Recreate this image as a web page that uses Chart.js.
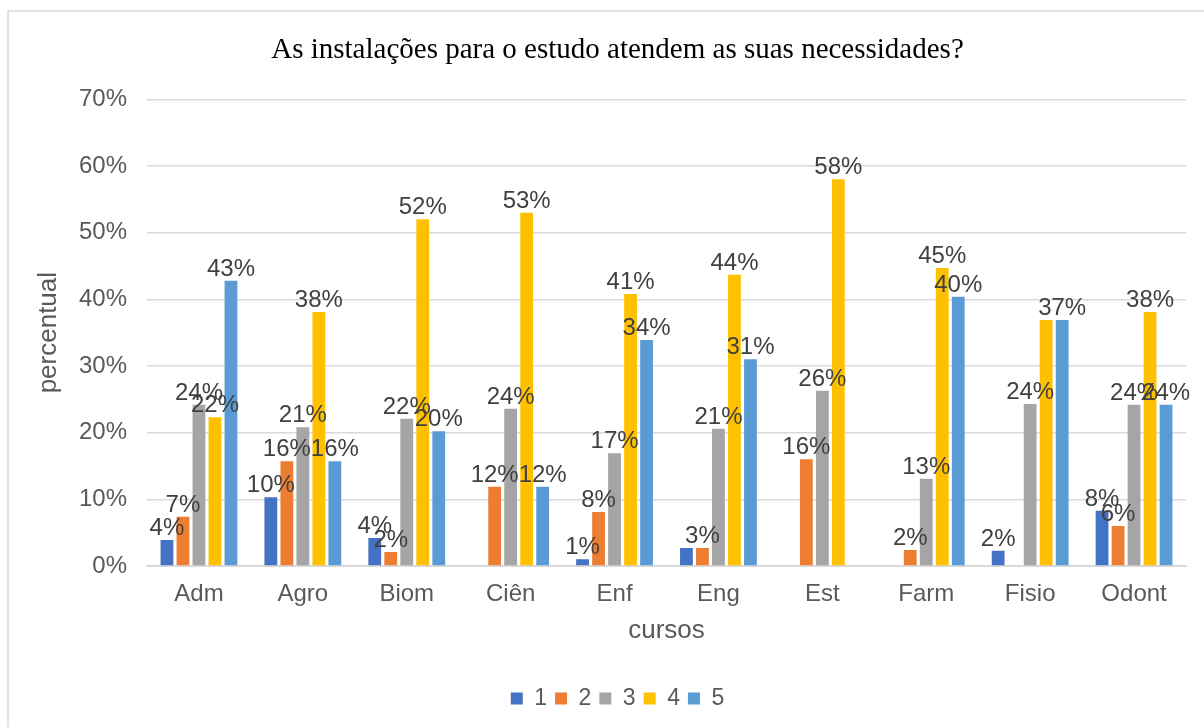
<!DOCTYPE html>
<html>
<head>
<meta charset="utf-8">
<script src="https://cdn.jsdelivr.net/npm/chart.js@4"></script>
<style>
  html, body { margin: 0; padding: 0; background: #fff; }
  #wrap { width: 1204px; height: 727px; position: relative; }
</style>
</head>
<body>
<div id="wrap"><canvas id="chart" width="1204" height="727"></canvas></div>
<script>
// ── Data ─────────────────────────────────────────────────────────────────────

const CURSOS = ['Adm', 'Agro', 'Biom', 'Ciên', 'Enf', 'Eng', 'Est', 'Farm', 'Fisio', 'Odont'];
const SERIES_NAMES = ['1', '2', '3', '4', '5'];
const SERIES_COLORS = ['#4472C4', '#ED7D31', '#A5A5A5', '#FFC000', '#5B9BD5'];

// null = no answer in that level (no bar, no label)
const NIVEL_1 = [0.039, 0.103, 0.042, null, 0.010, 0.027, null, null, 0.023, 0.083];
const NIVEL_2 = [0.074, 0.157, 0.021, 0.119, 0.081, 0.027, 0.160, 0.024, null, 0.060];
const NIVEL_3 = [0.242, 0.208, 0.221, 0.236, 0.169, 0.206, 0.263, 0.131, 0.243, 0.242];
const NIVEL_4 = [0.223, 0.381, 0.520, 0.530, 0.408, 0.437, 0.580, 0.447, 0.369, 0.381];
const NIVEL_5 = [0.428, 0.157, 0.202, 0.119, 0.339, 0.310, null, 0.404, 0.369, 0.242];

const Y_MAX = 0.7;
const Y_STEP = 0.1;

const TEXT_GREY = '#595959';
const GRID_GREY = '#d9d9d9';
const SANS = "'Liberation Sans', Arial, sans-serif";

function pct(v) {
  return Math.round(v * 100) + '%';
}

// ── Plugins ──────────────────────────────────────────────────────────────────

// outer frame of the chart object, like the Excel chart border
const framePlugin = {
  id: 'frame',
  beforeDraw(chart) {
    const ctx = chart.ctx;
    ctx.save();
    ctx.fillStyle = '#fff';
    ctx.fillRect(0, 0, chart.width, chart.height);
    ctx.strokeStyle = GRID_GREY;
    ctx.lineWidth = 1.5;
    ctx.strokeRect(8, 11, chart.width + 20, chart.height + 20);
    ctx.restore();
  }
};

// percentage labels on top of each bar
const barLabels = {
  id: 'barLabels',
  afterDatasetsDraw(chart) {
    const ctx = chart.ctx;
    const items = [];
    chart.data.datasets.forEach((ds, di) => {
      chart.getDatasetMeta(di).data.forEach((bar, i) => {
        const v = ds.data[i];
        if (v == null || v === 0) return;
        items.push({ text: pct(v), x: bar.x, y: bar.y });
      });
    });
    ctx.save();
    ctx.font = '24px ' + SANS;
    ctx.fillStyle = '#404040';
    ctx.textAlign = 'center';
    ctx.textBaseline = 'alphabetic';
    items.forEach((it, k) => {
      // same text sitting right on top of a later label: Excel shows only one
      const dup = items.slice(k + 1).some(o => o.text === it.text &&
        Math.abs(o.x - it.x) < 20 && Math.abs(o.y - it.y) < 4);
      if (dup) return;
      ctx.fillText(it.text, it.x, it.y - 5);
    });
    ctx.restore();
  }
};

// ── Chart ────────────────────────────────────────────────────────────────────

const seriesValues = [NIVEL_1, NIVEL_2, NIVEL_3, NIVEL_4, NIVEL_5];

const datasets = SERIES_NAMES.map((name, i) => ({
  label: name,
  data: seriesValues[i],
  backgroundColor: SERIES_COLORS[i],
  borderWidth: 0,
  barPercentage: 0.8,
  categoryPercentage: 0.77,
}));

new Chart(document.getElementById('chart'), {
  type: 'bar',
  data: { labels: CURSOS, datasets },
  plugins: [framePlugin, barLabels],
  options: {
    responsive: false,
    animation: false,
    layout: { padding: { top: 0, left: 31, right: 0, bottom: 7 } },
    plugins: {
      title: {
        display: true,
        text: 'As instalações para o estudo atendem as suas necessidades?',
        color: '#000',
        font: { family: "'Liberation Serif', 'Times New Roman', serif", size: 29, weight: 'normal' },
        padding: { top: 33, bottom: 31.5 },
      },
      legend: {
        position: 'bottom',
        labels: {
          color: TEXT_GREY,
          font: { family: SANS, size: 23 },
          boxWidth: 12,
          boxHeight: 12,
          padding: 8,
        },
      },
      tooltip: { enabled: false },
    },
    scales: {
      x: {
        grid: { display: false, drawTicks: false },
        border: { color: GRID_GREY, width: 2 },
        ticks: { color: TEXT_GREY, font: { family: SANS, size: 24 }, padding: 14 },
        title: {
          display: true,
          text: 'cursos',
          color: TEXT_GREY,
          font: { family: SANS, size: 26 },
          padding: { top: 0, bottom: 33 },
        },
        afterFit(scale) { scale.height = 113; },
      },
      y: {
        min: 0,
        max: Y_MAX,
        grid: { color: GRID_GREY, lineWidth: 1.5, drawTicks: false },
        border: { display: false },
        ticks: {
          stepSize: Y_STEP,
          color: TEXT_GREY,
          font: { family: SANS, size: 24 },
          padding: 20,
          callback: v => pct(v),
        },
        title: {
          display: true,
          text: 'percentual',
          color: TEXT_GREY,
          font: { family: SANS, size: 26 },
          padding: { top: 2, bottom: 0 },
        },
        afterFit(scale) { scale.width = 116; },
      },
      // empty right-hand strip so the plot stops short of the frame edge
      yRight: {
        position: 'right',
        display: true,
        min: 0,
        max: Y_MAX,
        grid: { display: false, drawTicks: false },
        border: { display: false },
        ticks: { display: false },
        afterFit(scale) { scale.width = 18; },
      },
    },
  },
});
</script>
</body>
</html>
